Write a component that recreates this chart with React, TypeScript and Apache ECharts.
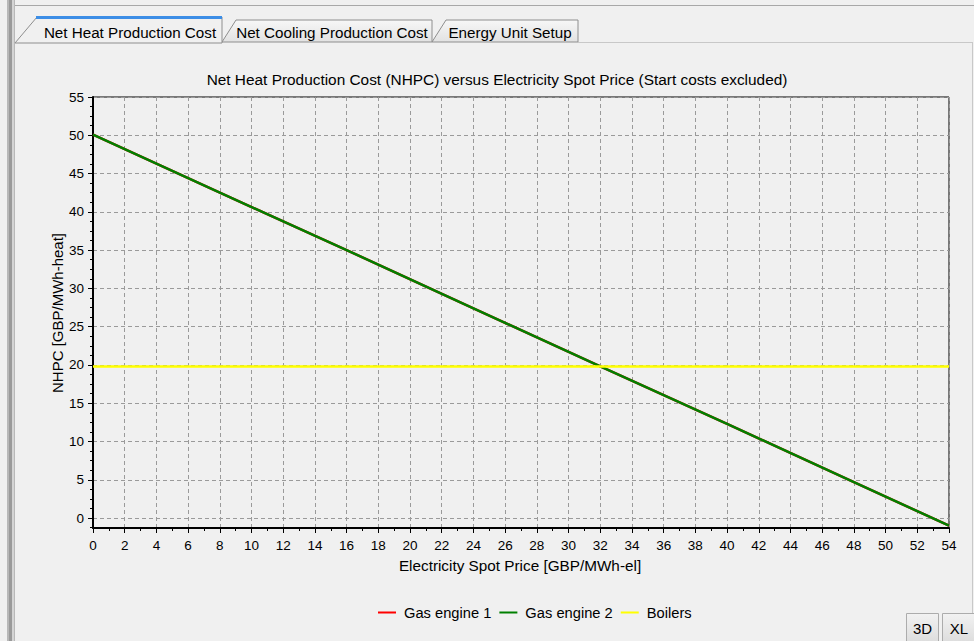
import React, { useEffect, useRef } from "react";
import * as echarts from "echarts";

const xValues = [0, 8, 16, 24, 32, 40, 48, 54];
const gasEngine1 = [50.1, 42.5, 35.0, 27.4, 19.8, 12.3, 4.7, -1.0];
const gasEngine2 = [50.1, 42.5, 35.0, 27.4, 19.8, 12.3, 4.7, -1.0];
const boilers = [19.8, 19.8, 19.8, 19.8, 19.8, 19.8, 19.8, 19.8];
const yTicks = [0, 5, 10, 15, 20, 25, 30, 35, 40, 45, 50, 55];
const seriesNames = ["Gas engine 1", "Gas engine 2", "Boilers"];
const seriesColors = ["#ff0000", "#008000", "#ffff00"];
const tabLabels = ["Net Heat Production Cost", "Net Cooling Production Cost", "Energy Unit Setup"];
const titleText = "Net Heat Production Cost (NHPC) versus Electricity Spot Price (Start costs excluded)";
const xName = "Electricity Spot Price [GBP/MWh-el]";
const yName = "NHPC [GBP/MWh-heat]";

const FONT = "'Liberation Sans', Arial, sans-serif";

export default function App() {
  const ref = useRef<HTMLDivElement>(null);
  useEffect(() => {
    document.body.style.margin = "0";
    const chart = echarts.init(ref.current!, null, { renderer: "svg" });
    const pairs = (ys: number[]) => xValues.map((x, i) => [x, ys[i]]);
    const tabGrad = {
      type: "linear", x: 0, y: 0, x2: 0, y2: 1,
      colorStops: [
        { offset: 0, color: "#f7f7f7" },
        { offset: 1, color: "#e2e2e2" },
      ],
    };
    const btnGrad = {
      type: "linear", x: 0, y: 0, x2: 0, y2: 1,
      colorStops: [
        { offset: 0, color: "#f2f2f2" },
        { offset: 1, color: "#dcdcdc" },
      ],
    };
    chart.setOption({
      animation: false,
      backgroundColor: "#f0f0f0",
      textStyle: { fontFamily: FONT },
      grid: {
        left: 93, top: 97, width: 856, height: 431,
        show: true, borderColor: "#000", borderWidth: 1, backgroundColor: "transparent",
      },
      legend: {
        left: 373, top: 600,
        itemWidth: 18, itemHeight: 2, itemGap: 8,
        icon: "rect",
        data: seriesNames,
        textStyle: { fontFamily: FONT, fontSize: 14.7, color: "#000", padding: [0, 0, 0, 3] },
      },
      xAxis: {
        type: "value", min: 0, max: 54, interval: 2,
        axisLine: { show: true, onZero: false, lineStyle: { color: "#000", width: 2 } },
        axisTick: { show: true, length: 5, lineStyle: { color: "#000" } },
        minorTick: { show: true, splitNumber: 2, length: 3, lineStyle: { color: "#000" } },
        axisLabel: { color: "#000", fontSize: 13.5, fontFamily: FONT, margin: 10 },
        splitLine: { show: true, lineStyle: { color: "#9a9a9a", type: [4, 3], width: 1 } },
      },
      yAxis: {
        type: "value", min: -1.3, max: 55, splitNumber: 11,
        axisLine: { show: true, onZero: false, lineStyle: { color: "#000", width: 2 } },
        axisTick: { show: true, length: 5, customValues: yTicks, lineStyle: { color: "#000" } },
        minorTick: { show: true, splitNumber: 4, length: 3, lineStyle: { color: "#000" } },
        axisLabel: { color: "#000", fontSize: 13.5, fontFamily: FONT, margin: 9, customValues: yTicks },
        splitLine: { show: true, lineStyle: { color: "#9a9a9a", type: [4, 3], width: 1 } },
      },
      series: [
        {
          name: seriesNames[0], type: "line", data: pairs(gasEngine1), showSymbol: false,
          color: seriesColors[0], lineStyle: { width: 2.5, color: seriesColors[0] }, z: 2,
        },
        {
          name: seriesNames[1], type: "line", data: pairs(gasEngine2), showSymbol: false,
          color: seriesColors[1], lineStyle: { width: 2.5, color: seriesColors[1] }, z: 3,
        },
        {
          name: seriesNames[2], type: "line", data: pairs(boilers), showSymbol: false,
          color: seriesColors[2], lineStyle: { width: 2.5, color: seriesColors[2] }, z: 4,
        },
      ],
      graphic: [
        // left splitter bars
        { type: "rect", shape: { x: 7, y: 0, width: 8, height: 641 }, style: { fill: "#b8b8b8" }, z: 1 },
        { type: "rect", shape: { x: 9, y: 0, width: 3, height: 641 }, style: { fill: "#9a9a9a" }, z: 1 },
        { type: "rect", shape: { x: 12, y: 0, width: 2, height: 641 }, style: { fill: "#d4d4d4" }, z: 1 },
        // top line
        { type: "line", shape: { x1: 15, y1: 5.5, x2: 974, y2: 5.5 }, style: { stroke: "#a8a8a8", lineWidth: 1 }, z: 1 },
        // tab strip baseline and right border
        { type: "line", shape: { x1: 578, y1: 42.5, x2: 972, y2: 42.5 }, style: { stroke: "#c8c8c8", lineWidth: 1 }, z: 1 },
        { type: "line", shape: { x1: 972.5, y1: 42, x2: 972.5, y2: 641 }, style: { stroke: "#c8c8c8", lineWidth: 1 }, z: 1 },
        // tab 3
        {
          type: "polygon", shape: { points: [[432, 42], [446, 20], [578, 20], [578, 42]] },
          style: { fill: tabGrad, stroke: "#8e8e8e", lineWidth: 1 }, z: 2,
        },
        { type: "text", x: 510, y: 32, style: { text: tabLabels[2], font: `15.2px ${FONT}`, fill: "#000", textAlign: "center", textVerticalAlign: "middle" }, z: 3 },
        // tab 2
        {
          type: "polygon", shape: { points: [[222, 42], [236, 20], [432, 20], [432, 42]] },
          style: { fill: tabGrad, stroke: "#8e8e8e", lineWidth: 1 }, z: 4,
        },
        { type: "text", x: 332, y: 32, style: { text: tabLabels[1], font: `15.2px ${FONT}`, fill: "#000", textAlign: "center", textVerticalAlign: "middle" }, z: 5 },
        // tab 1 (selected)
        {
          type: "polygon", shape: { points: [[15, 43], [37, 17], [222, 17], [222, 43]] },
          style: { fill: "#f0f0f0", stroke: "#8e8e8e", lineWidth: 1 }, z: 6,
        },
        { type: "rect", shape: { x: 36, y: 16, width: 186, height: 3 }, style: { fill: "#3d8ee6" }, z: 7 },
        { type: "text", x: 130, y: 32, style: { text: tabLabels[0], font: `15.2px ${FONT}`, fill: "#000", textAlign: "center", textVerticalAlign: "middle" }, z: 7 },
        // chart title and axis names
        { type: "text", x: 497, y: 79, style: { text: titleText, font: `15.4px ${FONT}`, fill: "#000", textAlign: "center", textVerticalAlign: "middle" }, z: 5 },
        { type: "text", x: 520, y: 565, style: { text: xName, font: `15.3px ${FONT}`, fill: "#000", textAlign: "center", textVerticalAlign: "middle" }, z: 5 },
        { type: "text", x: 57, y: 313, rotation: Math.PI / 2, style: { text: yName, font: `15px ${FONT}`, fill: "#000", textAlign: "center", textVerticalAlign: "middle" }, z: 5 },
        // buttons
        { type: "rect", shape: { x: 906.5, y: 613.5, width: 32, height: 30 }, style: { fill: btnGrad, stroke: "#acacac", lineWidth: 1 }, z: 5 },
        { type: "text", x: 922.5, y: 628, style: { text: "3D", font: `15px ${FONT}`, fill: "#000", textAlign: "center", textVerticalAlign: "middle" }, z: 6 },
        { type: "rect", shape: { x: 942.5, y: 613.5, width: 32, height: 30 }, style: { fill: btnGrad, stroke: "#acacac", lineWidth: 1 }, z: 5 },
        { type: "text", x: 959, y: 628, style: { text: "XL", font: `15px ${FONT}`, fill: "#000", textAlign: "center", textVerticalAlign: "middle" }, z: 6 },
      ],
    });
    return () => chart.dispose();
  }, []);
  return <div ref={ref} style={{ position: "absolute", left: 0, top: 0, width: 974, height: 641 }} />;
}
